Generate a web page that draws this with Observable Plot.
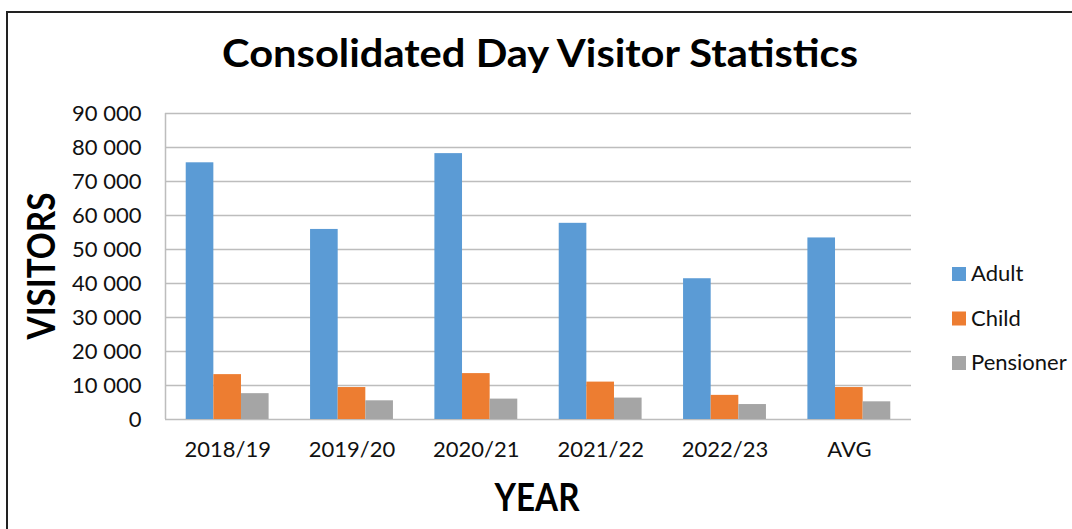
<!DOCTYPE html>
<html>
<head>
<meta charset="utf-8">
<script src="https://cdn.jsdelivr.net/npm/d3@7"></script>
<script src="https://cdn.jsdelivr.net/npm/@observablehq/plot@0.6"></script>
<style>
  html, body { margin: 0; padding: 0; background: #fff; }
  #wrap { position: relative; width: 1072px; height: 529px; overflow: hidden; background: #fff; font-family: Lato, "Open Sans", sans-serif; }
  #border { position: absolute; left: 6px; top: 11px; right: -10px; bottom: -10px; border-top: 2px solid #222; border-left: 2px solid #222; }
  #chart { position: absolute; left: 0; top: 0; }
  #overlay { position: absolute; left: 0; top: 0; pointer-events: none; }
</style>
</head>
<body>
<div id="wrap">
  <div id="border"></div>
  <div id="chart"></div>
  <svg id="overlay" width="1072" height="529"></svg>
</div>
<script>
// ---- data ----
const years = ["2018/19", "2019/20", "2020/21", "2021/22", "2022/23", "AVG"];
const series = ["Adult", "Child", "Pensioner"];
const adult = [75500, 55900, 78200, 57700, 41400, 53400];
const child = [13200, 9400, 13500, 11000, 7100, 9400];
const pensioner = [7600, 5500, 6000, 6300, 4400, 5200];
const yTicks = [0, 10000, 20000, 30000, 40000, 50000, 60000, 70000, 80000, 90000];
const colors = ["#5B9BD5", "#ED7D31", "#A5A5A5"];

const title = "Consolidated Day Visitor Statistics";
const xTitle = "YEAR";
const yTitle = "VISITORS";

// ---- build table ----
const valuesBySeries = [adult, child, pensioner];
const data = years.flatMap((yr, i) =>
  series.map((s, j) => ({ year: yr, i, series: s, j, value: valuesBySeries[j][i] }))
);

const groupFrac = 2 / 3;               // share of each category band used by the bar group
const barFrac = groupFrac / series.length;
const xDomain = [-0.5, years.length - 0.5];

const fmt = d3.formatLocale({ decimal: ".", thousands: " ", grouping: [3], currency: ["", ""] }).format(",");

const plot = Plot.plot({
  width: 1072,
  height: 529,
  marginLeft: 165,
  marginRight: 161,
  marginTop: 113,
  marginBottom: 110,
  style: { fontFamily: "Lato, 'Open Sans', sans-serif", background: "transparent", color: "#111" },
  x: { domain: xDomain },
  y: { domain: [0, yTicks[yTicks.length - 1]] },
  color: { domain: series, range: colors },
  marks: [
    Plot.gridY(yTicks, { stroke: "#bdbdbd", strokeOpacity: 1, strokeWidth: 1.5 }),
    Plot.ruleX([xDomain[0]], { stroke: "#bdbdbd", strokeWidth: 1.5 }),
    Plot.rectY(data, {
      x1: d => d.i - groupFrac / 2 + d.j * barFrac,
      x2: d => d.i - groupFrac / 2 + (d.j + 1) * barFrac,
      y: "value",
      fill: "series"
    }),
    Plot.axisY({ ticks: yTicks, tickFormat: fmt, tickSize: 0, tickPadding: 24, fontSize: 22, label: null }),
    Plot.axisX({ ticks: d3.range(years.length), tickFormat: i => years[i], tickSize: 0, tickPadding: 22, fontSize: 22, label: null })
  ]
});
document.getElementById("chart").appendChild(plot);

// ---- titles & legend (outside the plot) ----
const ov = d3.select("#overlay");
ov.append("text")
  .attr("x", 540).attr("y", 67)
  .attr("text-anchor", "middle")
  .attr("font-family", "Lato, 'Open Sans', sans-serif")
  .attr("font-weight", 700)
  .attr("font-size", 39)
  .attr("textLength", 636).attr("lengthAdjust", "spacingAndGlyphs")
  .attr("fill", "#000")
  .text(title);

ov.append("text")
  .attr("x", 537).attr("y", 511)
  .attr("text-anchor", "middle")
  .attr("font-family", "Lato, 'Open Sans', sans-serif")
  .attr("font-weight", 700)
  .attr("font-size", 39)
  .attr("textLength", 85).attr("lengthAdjust", "spacingAndGlyphs")
  .attr("fill", "#000")
  .text(xTitle);

ov.append("text")
  .attr("transform", "translate(55,266) rotate(-90)")
  .attr("text-anchor", "middle")
  .attr("font-family", "Lato, 'Open Sans', sans-serif")
  .attr("font-weight", 700)
  .attr("font-size", 39)
  .attr("textLength", 147).attr("lengthAdjust", "spacingAndGlyphs")
  .attr("fill", "#000")
  .text(yTitle);

const legendTop = 267, legendStep = 44.5;
series.forEach((s, j) => {
  const y0 = legendTop + j * legendStep;
  ov.append("rect").attr("x", 952).attr("y", y0).attr("width", 14).attr("height", 14).attr("fill", colors[j]);
  ov.append("text")
    .attr("x", 971).attr("y", y0 + 14)
    .attr("font-family", "Lato, 'Open Sans', sans-serif")
    .attr("font-size", 22)
    .attr("fill", "#111")
    .text(s);
});
</script>
</body>
</html>
